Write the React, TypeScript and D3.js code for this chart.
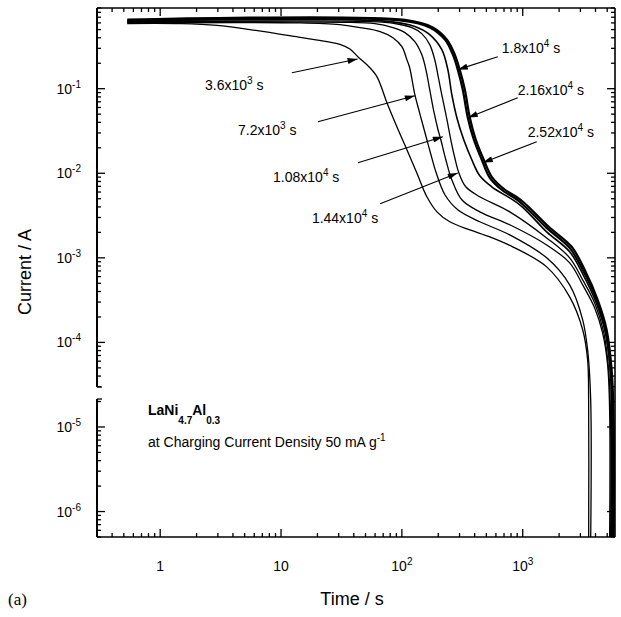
import React from 'react';
import * as d3 from 'd3';

// chart size
const W = 621;
const H = 617;

const xDomain = [0.3, 5800];
const yDomain = [5e-7, 0.9];

const xMajor = [1, 10, 100, 1000];
const xMajorBase = ['1', '10', '10', '10'];
const xMajorExp = ['', '', '2', '3'];
const yMajor = [1e-1, 1e-2, 1e-3, 1e-4, 1e-5, 1e-6];
const yMajorExp = ['-1', '-2', '-3', '-4', '-5', '-6'];

// [time s, current A]
const curve3600 = [
  [0.534, 0.59], [1.5, 0.588], [2.96, 0.56], [5.55, 0.5], [14.4, 0.405], [24, 0.36], [30.7, 0.335],
  [37.1, 0.295], [43.2, 0.239], [52.4, 0.187], [62.1, 0.139], [75.2, 0.0683], [90.9, 0.0355],
  [110, 0.019], [133, 0.0101], [161, 0.00527], [195, 0.0035], [249, 0.00267], [365, 0.00214],
  [534, 0.00177], [826, 0.00135], [1578, 7.82e-4], [2445, 3.45e-4], [3133, 1.41e-4],
  [3443, 6.21e-5], [3510, 2.09e-5], [3512, 5e-7],
];
const curve7200 = [
  [0.534, 0.6], [14.4, 0.6], [30.7, 0.572], [45, 0.527], [66.1, 0.473], [84.3, 0.401],
  [100, 0.314], [110, 0.22], [116, 0.177], [128, 0.0849], [138, 0.0564], [149, 0.0375],
  [161, 0.0249], [174, 0.01656], [191, 0.0104], [227, 0.00557], [290, 0.0037], [441, 0.00267],
  [781, 0.00187], [1578, 0.001], [2445, 4.79e-4], [3133, 1.85e-4], [3443, 8.15e-5],
  [3650, 2.09e-5], [3652, 5e-7],
];
const curve10800 = [
  [0.534, 0.61], [30.7, 0.61], [59.8, 0.588], [84.3, 0.527], [106, 0.46], [128, 0.36],
  [146, 0.253], [158, 0.168], [170, 0.0973], [184, 0.0534], [199, 0.0327], [210, 0.0249],
  [231, 0.01445], [259, 0.00837], [313, 0.00486], [441, 0.0035], [781, 0.00246],
  [1578, 0.00142], [2445, 8.73e-4], [3133, 4.79e-4], [3937, 2.56e-4], [4585, 1.29e-4],
  [5040, 5.42e-5], [5235, 1.59e-5], [5237, 5e-7],
];
const curve14400 = [
  [0.534, 0.62], [54.5, 0.62], [87.6, 0.59], [121, 0.527], [146, 0.448], [170, 0.332],
  [187, 0.22], [202, 0.128], [218, 0.0741], [236, 0.043], [254, 0.0249], [274, 0.01525],
  [296, 0.01014], [338, 0.00692], [441, 0.00527], [781, 0.0035], [1578, 0.00172],
  [2445, 0.001], [3133, 5.49e-4], [3937, 2.93e-4], [4670, 1.33e-4], [5140, 4.73e-5],
  [5335, 1.21e-5], [5337, 5e-7],
];
const curve18000 = [
  [0.534, 0.63], [72.4, 0.63], [128, 0.545], [170, 0.436], [214, 0.289], [240, 0.168],
  [259, 0.0849], [285, 0.0454], [325, 0.0249], [379, 0.01445], [441, 0.00934], [554, 0.00692],
  [945, 0.00424], [1578, 0.00203], [2445, 0.00118], [3133, 6.47e-4], [4090, 2.85e-4],
  [4850, 1.26e-4], [5335, 4.12e-5], [5440, 1.21e-5], [5442, 5e-7],
];
const curve21600 = [
  [0.534, 0.64], [96.2, 0.64], [170, 0.53], [227, 0.38], [264, 0.253], [290, 0.168],
  [319, 0.0973], [351, 0.0454], [394, 0.0249], [458, 0.01445], [534, 0.00885], [670, 0.00638],
  [945, 0.0046], [1578, 0.00226], [2445, 0.00131], [3133, 7.21e-4], [4090, 3.18e-4],
  [4850, 1.41e-4], [5335, 4.73e-5], [5550, 1.21e-5], [5552, 5e-7],
];
const curve25200 = [
  [0.534, 0.655], [106, 0.65], [180, 0.53], [236, 0.38], [274, 0.253], [301, 0.168],
  [332, 0.0973], [365, 0.0454], [409, 0.0249], [476, 0.01445], [554, 0.00909], [696, 0.00656],
  [982, 0.00473], [1640, 0.00233], [2541, 0.00135], [3253, 7.21e-4], [4170, 3.18e-4],
  [4945, 1.41e-4], [5440, 4.73e-5], [5650, 1.21e-5], [5652, 5e-7],
];

const curves = [curve3600, curve7200, curve10800, curve14400, curve18000, curve21600, curve25200];
const curveWidths = [1.3, 1.3, 1.3, 1.3, 1.6, 2.2, 2.2];

// annotation labels: mantissa, exponent, label start, arrow tail, arrow tip
const annoBase = ['3.6x10', '7.2x10', '1.08x10', '1.44x10', '1.8x10', '2.16x10', '2.52x10'];
const annoExp = ['3', '3', '4', '4', '4', '4', '4'];
const annoLabelAt = [[2.35, 0.0973], [4.41, 0.0286], [8.59, 0.00793], [18.0, 0.0026], [670, 0.267], [909, 0.0849], [1099, 0.027]];
const annoTail = [[12.3, 0.1545], [20.2, 0.0407], [43.3, 0.0133], [66.1, 0.00436], [621, 0.239], [909, 0.0782], [1306, 0.0236]];
const annoTip = [[43, 0.225], [128, 0.0826], [218, 0.027], [290, 0.0101], [290, 0.168], [351, 0.0454], [467, 0.0133]];

const breakLow = 2.14e-5;
const breakHigh = 2.97e-5;

const font = '"Liberation Sans", Arial, sans-serif';

function decadeTicks(lo: number, hi: number) {
  const out: number[] = [];
  for (let k = Math.floor(Math.log10(lo)); k <= Math.ceil(Math.log10(hi)); k++) {
    for (let m = 1; m <= 9; m++) {
      const v = m * Math.pow(10, k);
      if (v >= lo && v <= hi) out.push(v);
    }
  }
  return out;
}

export default function App() {
  const x = d3.scaleLog().domain(xDomain).range([97, 615]);
  const y = d3.scaleLog().domain(yDomain).range([537, 8]);
  const left = 97, right = 615, top = 8, bottom = 537;

  const line = d3.line<number[]>()
    .x(d => x(d[0]))
    .y(d => y(d[1]))
    .curve(d3.curveCatmullRom.alpha(0.5));

  const xMinor = decadeTicks(xDomain[0], xDomain[1]).filter(v => !xMajor.includes(v));
  const yMinor = decadeTicks(yDomain[0], yDomain[1]).filter(v => !yMajor.some(m => Math.abs(m - v) / m < 1e-6));
  const inGap = (v: number) => v > breakLow && v < breakHigh;

  const tick = (x1: number, y1: number, x2: number, y2: number, key: string) => (
    <line key={key} x1={x1} y1={y1} x2={x2} y2={y2} stroke="#000" strokeWidth={1.3} />
  );

  return (
    <svg width={W} height={H} style={{ position: 'absolute', left: 0, top: 0, background: '#fff' }} fontFamily={font}>
      <defs>
        <marker id="arr" viewBox="0 0 10 6" refX="10" refY="3" markerWidth="11" markerHeight="6" markerUnits="userSpaceOnUse" orient="auto">
          <path d="M0,0 L10,3 L0,6 Z" fill="#000" />
        </marker>
      </defs>

      {/* curves */}
      {curves.map((c, i) => (
        <path key={i} d={line(c) || ''} fill="none" stroke="#000" strokeWidth={curveWidths[i]} strokeLinejoin="round" />
      ))}

      {/* frame */}
      <line x1={left} y1={top} x2={left} y2={y(breakHigh)} stroke="#000" strokeWidth={2} />
      <line x1={left} y1={y(breakLow)} x2={left} y2={bottom} stroke="#000" strokeWidth={2} />
      <line x1={left} y1={y(breakHigh)} x2={left + 5} y2={y(breakHigh)} stroke="#000" strokeWidth={1.3} />
      <line x1={left} y1={y(breakLow)} x2={left + 5} y2={y(breakLow)} stroke="#000" strokeWidth={1.3} />
      <line x1={left} y1={top} x2={right} y2={top} stroke="#000" strokeWidth={1.6} />
      <line x1={left} y1={bottom} x2={right} y2={bottom} stroke="#000" strokeWidth={1.6} />
      <line x1={right} y1={top} x2={right} y2={bottom} stroke="#000" strokeWidth={1.6} />

      {/* x ticks (bottom and top, inward) */}
      {xMajor.map(v => tick(x(v), bottom, x(v), bottom - 8, 'xb' + v))}
      {xMajor.map(v => tick(x(v), top, x(v), top + 8, 'xt' + v))}
      {xMinor.map(v => tick(x(v), bottom, x(v), bottom - 4, 'xbm' + v))}
      {xMinor.map(v => tick(x(v), top, x(v), top + 4, 'xtm' + v))}

      {/* y ticks (left and right, inward) */}
      {yMajor.map(v => tick(left, y(v), left + 8, y(v), 'yl' + v))}
      {yMajor.map(v => tick(right, y(v), right - 8, y(v), 'yr' + v))}
      {yMinor.filter(v => !inGap(v)).map(v => tick(left, y(v), left + 4, y(v), 'ylm' + v))}
      {yMinor.map(v => tick(right, y(v), right - 4, y(v), 'yrm' + v))}

      {/* x tick labels */}
      {xMajor.map((v, i) => (
        <text key={'xl' + v} x={x(v)} y={571} fontSize={14} textAnchor="middle">
          {xMajorBase[i]}
          {xMajorExp[i] && <tspan fontSize={10} dy={-6}>{xMajorExp[i]}</tspan>}
        </text>
      ))}

      {/* y tick labels */}
      {yMajor.map((v, i) => (
        <text key={'yl' + v} x={81} y={y(v) + 5} fontSize={14} textAnchor="end">
          10<tspan fontSize={10} dy={-6}>{yMajorExp[i]}</tspan>
        </text>
      ))}

      {/* axis titles */}
      <text x={352} y={605} fontSize={18} textAnchor="middle">Time / s</text>
      <text transform={`translate(31,${272}) rotate(-90)`} fontSize={18} textAnchor="middle">Current / A</text>
      <text x={8} y={605} fontSize={17} fontFamily='"Liberation Serif", "Times New Roman", serif'>(a)</text>

      {/* annotations */}
      {annoBase.map((b, i) => (
        <g key={'a' + i}>
          <line
            x1={x(annoTail[i][0])} y1={y(annoTail[i][1])}
            x2={x(annoTip[i][0])} y2={y(annoTip[i][1])}
            stroke="#000" strokeWidth={1.1} markerEnd="url(#arr)"
          />
          <text x={x(annoLabelAt[i][0])} y={y(annoLabelAt[i][1])} fontSize={14}>
            {b}<tspan fontSize={10} dy={-6}>{annoExp[i]}</tspan><tspan dy={6}> s</tspan>
          </text>
        </g>
      ))}

      {/* sample label */}
      <text x={148} y={415} fontSize={14} fontWeight="bold">
        LaNi<tspan fontSize={10} dy={9}>4.7</tspan><tspan dy={-9}>Al</tspan><tspan fontSize={10} dy={9}>0.3</tspan>
      </text>
      <text x={148} y={447} fontSize={14}>
        at Charging Current Density 50 mA g<tspan fontSize={10} dy={-6}>-1</tspan>
      </text>
    </svg>
  );
}
